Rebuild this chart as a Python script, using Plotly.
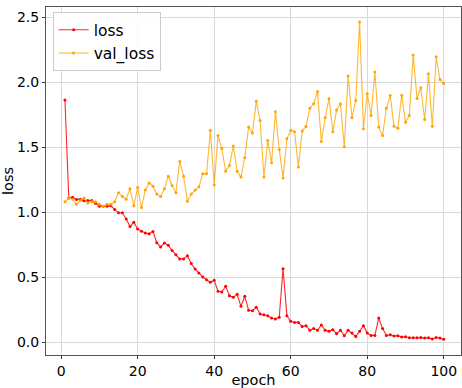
import plotly.graph_objects as go

epochs = list(range(1, 101))

loss = [1.863, 1.11, 1.115, 1.097, 1.10, 1.087, 1.09, 1.09, 1.069, 1.045,
        1.045, 1.045, 1.05, 1.02, 0.995, 0.995, 0.948, 0.89, 0.922, 0.87,
        0.853, 0.84, 0.833, 0.852, 0.765, 0.732, 0.763, 0.745, 0.704, 0.673,
        0.64, 0.64, 0.665, 0.604, 0.563, 0.532, 0.501, 0.48, 0.46, 0.475,
        0.39, 0.385, 0.429, 0.357, 0.344, 0.367, 0.275, 0.352, 0.244, 0.241,
        0.268, 0.216, 0.21, 0.203, 0.185, 0.177, 0.19, 0.565, 0.203, 0.159,
        0.151, 0.151, 0.12, 0.126, 0.09, 0.105, 0.09, 0.131, 0.09, 0.082,
        0.095, 0.064, 0.09, 0.049, 0.09, 0.069, 0.043, 0.082, 0.126, 0.069,
        0.051, 0.051, 0.185, 0.105, 0.051, 0.056, 0.046, 0.049, 0.038, 0.041,
        0.033, 0.033, 0.033, 0.035, 0.03, 0.032, 0.024, 0.035, 0.03, 0.022]

val_loss = [1.08, 1.11, 1.10, 1.06, 1.09, 1.11, 1.07, 1.08, 1.08, 1.06,
            1.045, 1.06, 1.06, 1.08, 1.15, 1.12, 1.10, 1.18, 1.05, 1.19,
            1.035, 1.17, 1.225, 1.20, 1.14, 1.12, 1.18, 1.277, 1.205, 1.15,
            1.39, 1.277, 1.085, 1.14, 1.17, 1.195, 1.295, 1.295, 1.63, 1.21,
            1.59, 1.49, 1.315, 1.36, 1.51, 1.315, 1.27, 1.42, 1.655, 1.61,
            1.855, 1.706, 1.27, 1.552, 1.38, 1.773, 1.483, 1.264, 1.565, 1.63,
            1.62, 1.347, 1.625, 1.66, 1.80, 1.835, 1.93, 1.545, 1.727, 1.876,
            1.62, 1.786, 1.835, 1.503, 2.048, 1.727, 1.86, 2.464, 1.642, 1.912,
            1.745, 2.079, 1.655, 1.59, 1.80, 1.899, 1.662, 1.647, 1.90, 1.693,
            1.745, 2.21, 1.876, 1.958, 1.714, 2.066, 1.662, 2.197, 2.022, 1.99]

x_ticks = [0, 20, 40, 60, 80, 100]
y_ticks = [0.0, 0.5, 1.0, 1.5, 2.0, 2.5]
y_tick_labels = ["0.0", "0.5", "1.0", "1.5", "2.0", "2.5"]

fig = go.Figure()
fig.add_trace(go.Scatter(
    x=epochs, y=loss, name="loss", mode="lines+markers",
    line=dict(color="rgba(255,0,0,0.85)", width=1.1),
    marker=dict(color="red", size=3),
))
fig.add_trace(go.Scatter(
    x=epochs, y=val_loss, name="val_loss", mode="lines+markers",
    line=dict(color="rgba(255,165,0,0.8)", width=1.1),
    marker=dict(color="orange", size=3),
))

axis_common = dict(
    showline=True, linecolor="#555555", linewidth=1, mirror=True,
    showgrid=True, gridcolor="#d9d9d9", gridwidth=1,
    ticks="outside", ticklen=3, tickcolor="#333333",
    zeroline=False, automargin=False,
    tickfont=dict(family="DejaVu Sans", size=14, color="black"),
)

fig.update_layout(
    width=462, height=388,
    margin=dict(l=46, r=1, t=7, b=33),
    paper_bgcolor="white", plot_bgcolor="white",
    font=dict(family="DejaVu Sans", color="black"),
    showlegend=True,
    legend=dict(
        x=0.016, y=0.985, xanchor="left", yanchor="top",
        bgcolor="rgba(255,255,255,0.85)", bordercolor="#cccccc", borderwidth=1,
        font=dict(family="DejaVu Sans", size=15.5, color="black"),
        itemwidth=30,
    ),
    xaxis=dict(axis_common, range=[-3.95, 104.5], tickvals=x_ticks,
               title=dict(text="epoch", font=dict(size=14.5), standoff=0)),
    yaxis=dict(axis_common, range=[-0.1, 2.58], tickvals=y_ticks,
               ticktext=y_tick_labels,
               title=dict(text="loss", font=dict(size=14.5), standoff=5)),
)

fig.write_html(
    "out.html",
    config={"displayModeBar": False},
    post_script="document.body.style.margin='0';document.body.style.overflow='hidden';",
)
